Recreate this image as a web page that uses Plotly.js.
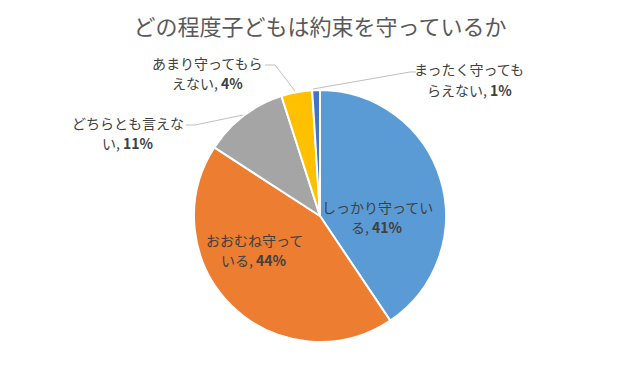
<!DOCTYPE html>
<html>
<head>
<meta charset="utf-8">
<script src="https://cdn.plot.ly/plotly-3.0.1.min.js"></script>
<style>html,body{margin:0;padding:0;background:#fff;}#chart{width:640px;height:384px;}</style>
</head>
<body>
<div id="chart"></div>
<script>
const categories = ["しっかり守っている", "おおむね守っている", "どちらとも言えない", "あまり守ってもらえない", "まったく守ってもらえない"];
const values = [41, 44, 11, 4, 1];
const labelLines = [
  ["しっかり守ってい", "る"],
  ["おおむね守って", "いる"],
  ["どちらとも言えな", "い"],
  ["あまり守ってもら", "えない"],
  ["まったく守っても", "らえない"]
];
const colors = ["#5B9BD5", "#ED7D31", "#A5A5A5", "#FFC000", "#4472C4"];
const titleText = "どの程度子どもは約束を守っているか";

const W = 640, H = 384;
const px = x => x / W;
const py = y => 1 - y / H;
const cx = 320, cy = 216, r = 126;

// label positions (layout only): center x, first-line y, second-line y
const labelPos = [[377, 207, 227], [254, 240, 260], [128, 123, 143], [207, 63, 83], [469, 69, 90]];
const leaders = [null, null,
  [[186, 125], [195, 125], [243, 115]],
  [[265, 65], [275, 65], [295, 91]],
  [[416, 72], [410, 72], [313, 89]]
];

const labelFont = {family: "Noto Sans CJK JP, sans-serif", size: 14, color: "#404040"};
const annotations = [];
categories.forEach((c, i) => {
  annotations.push({
    xref: "paper", yref: "paper",
    x: px(labelPos[i][0]), y: py(labelPos[i][1]),
    xanchor: "center", yanchor: "middle", showarrow: false,
    text: labelLines[i][0], font: labelFont
  });
  annotations.push({
    xref: "paper", yref: "paper",
    x: px(labelPos[i][0]), y: py(labelPos[i][2]),
    xanchor: "center", yanchor: "middle", showarrow: false,
    text: labelLines[i][1] + ", <b>" + values[i] + "%</b>", font: labelFont
  });
});

const shapes = leaders.filter(l => l).map(l => ({
  type: "path", xref: "paper", yref: "paper",
  path: "M" + l.map(p => px(p[0]) + "," + py(p[1])).join(" L"),
  line: {color: "#BFBFBF", width: 1}
}));

const trace = {
  type: "pie",
  labels: categories,
  values: values,
  sort: false,
  direction: "clockwise",
  rotation: 0,
  textinfo: "none",
  hoverinfo: "label+percent",
  marker: {colors: colors, line: {color: "#FFFFFF", width: 2}},
  domain: {x: [px(cx - r), px(cx + r)], y: [py(cy + r), py(cy - r)]},
  showlegend: false
};

const layout = {
  width: W, height: H,
  margin: {l: 0, r: 0, t: 0, b: 0},
  paper_bgcolor: "#FFFFFF",
  title: {
    text: titleText,
    x: 0.5, xanchor: "center", y: 1 - 27 / H, yanchor: "middle",
    font: {family: "Noto Sans CJK JP, sans-serif", size: 22, color: "#595959"}
  },
  annotations: annotations,
  shapes: shapes,
  showlegend: false
};

Plotly.newPlot("chart", [trace], layout, {displayModeBar: false, staticPlot: true});
</script>
</body>
</html>
